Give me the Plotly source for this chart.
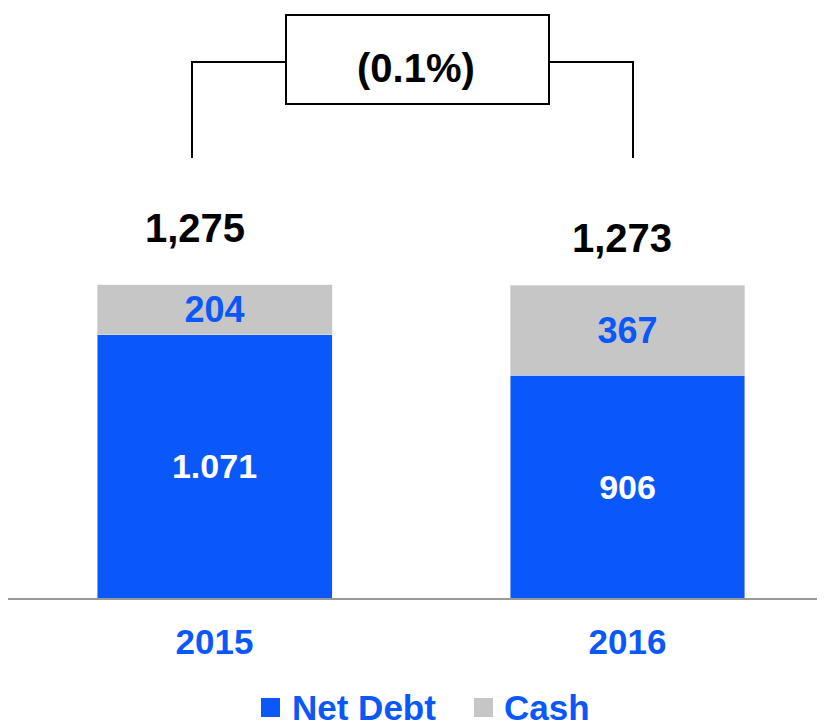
import plotly.graph_objects as go

years = ["2015", "2016"]
series = ["Net Debt", "Cash"]
net_debt = [1071, 906]
cash = [204, 367]
change_label = "(0.1%)"

BLUE = "#0A57FA"
GRAY = "#C6C6C6"
FONT = "Liberation Sans, Arial, sans-serif"

W, H = 825, 723
OFFX, OFFY = 8, 8  # page offset of the figure
L = 0
PW = W - L
PH = 598 - OFFY
B = H - PH
YMAX = PH / 0.2456

totals = [n + c for n, c in zip(net_debt, cash)]
xpos = [0, 1]

def px(x):
    return (x - OFFX - L) / PW

def py(y):
    return (PH - (y - OFFY)) / PH

fig = go.Figure()
fig.add_trace(go.Bar(
    x=xpos, y=net_debt, name=series[0], marker_color=BLUE, width=0.569,
    text=[f"{v:,}".replace(",", ".") for v in net_debt],
    textposition="inside", insidetextanchor="middle", constraintext="none",
    textfont=dict(family=FONT, size=34, color="white", weight="bold"),
    showlegend=False, hoverinfo="skip"))
fig.add_trace(go.Bar(
    x=xpos, y=cash, name=series[1], marker_color=GRAY, width=0.569,
    text=[f"{v:,}" for v in cash],
    textposition="inside", insidetextanchor="middle", constraintext="none",
    textfont=dict(family=FONT, size=36, color=BLUE, weight="bold"),
    showlegend=False, hoverinfo="skip"))

annotations = []
label_centres = [(195, 228), (622, 238)]  # pixel centres of the total labels
for x, t, (cx, cy) in zip(xpos, totals, label_centres):
    annotations.append(dict(x=px(cx), y=py(cy), xref="paper", yref="paper", text=f"<b>{t:,}</b>",
                            showarrow=False, xanchor="center", yanchor="middle",
                            font=dict(family=FONT, size=40, color="black")))
annotations.append(dict(x=px(416), y=py(68), xref="paper", yref="paper",
                        xanchor="center", yanchor="middle",
                        text=f"<b>{change_label}</b>", showarrow=False,
                        font=dict(family=FONT, size=40, color="black")))

lc = dict(color="black", width=2)
shapes = [
    dict(type="path", xref="paper", yref="paper",
         path=f"M{px(192)},{py(158)} L{px(192)},{py(62)} L{px(286)},{py(62)}", line=lc),
    dict(type="path", xref="paper", yref="paper",
         path=f"M{px(549)},{py(62)} L{px(633)},{py(62)} L{px(633)},{py(158)}", line=lc),
    dict(type="rect", xref="paper", yref="paper",
         x0=px(286), x1=px(549), y0=py(104), y1=py(15), line=lc),
]

# manual legend
legend_items = [(series[0], BLUE, 261, 290), (series[1], GRAY, 474, 502)]
for name, col, sx, tx in legend_items:
    shapes.append(dict(type="rect", xref="paper", yref="paper",
                       x0=px(sx), x1=px(sx + 19), y0=py(717), y1=py(698),
                       fillcolor=col, line=dict(width=0)))
    annotations.append(dict(x=px(tx), y=py(707), xref="paper", yref="paper",
                            xanchor="left", yanchor="middle", showarrow=False,
                            text=f"<b>{name}</b>",
                            font=dict(family=FONT, size=35, color=BLUE)))

fig.update_layout(
    width=W, height=H, barmode="stack",
    margin=dict(l=L, r=0, t=0, b=B),
    plot_bgcolor="white", paper_bgcolor="white",
    font=dict(family=FONT),
    xaxis=dict(range=[-0.5, 1.4976], tickvals=xpos, ticktext=[f"<b>{y}</b>" for y in years],
               tickfont=dict(family=FONT, size=35, color=BLUE), showgrid=False,
               zeroline=False, showline=True, linecolor="#999999", linewidth=1.5,
               ticks="", ticklabelstandoff=12),
    yaxis=dict(range=[0, YMAX], visible=False, showgrid=False, zeroline=False),
    showlegend=False,
    annotations=annotations, shapes=shapes,
)

fig.write_html("out.html")
